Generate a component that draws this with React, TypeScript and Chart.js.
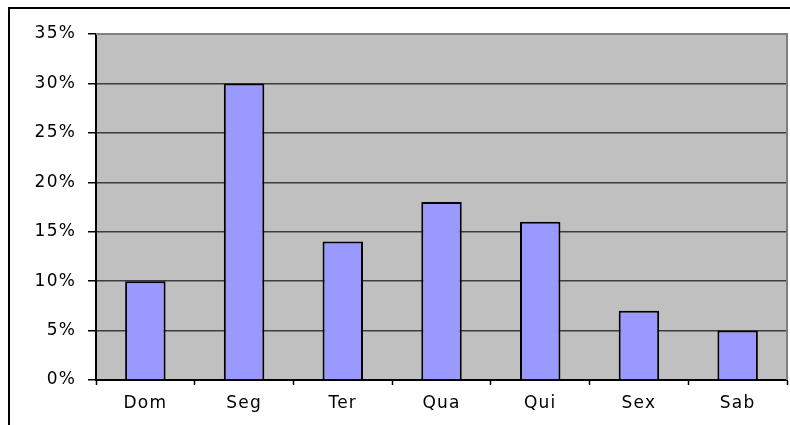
import React, { useEffect, useRef } from "react";
import { Chart, registerables } from "chart.js";

Chart.register(...registerables);

const categories = ["Dom", "Seg", "Ter", "Qua", "Qui", "Sex", "Sab"];
const values = [10, 30, 14, 18, 16, 7, 5];
const yTicks = [0, 5, 10, 15, 20, 25, 30, 35];

const framePlugin = {
  id: "frame",
  beforeDraw(chart: any) {
    const ctx = chart.ctx;
    const a = chart.chartArea;
    (ctx as any).letterSpacing = "1.2px";
    ctx.save();
    ctx.fillStyle = "#C0C0C0";
    ctx.fillRect(a.left, a.top, a.right - a.left, a.bottom - a.top);
    ctx.strokeStyle = "#000";
    ctx.lineWidth = 2;
    ctx.beginPath();
    ctx.moveTo(9, 425);
    ctx.lineTo(9, 8);
    ctx.lineTo(790, 8);
    ctx.stroke();
    ctx.restore();
  },
  afterDraw(chart: any) {
    const ctx = chart.ctx;
    const a = chart.chartArea;
    ctx.save();
    ctx.strokeStyle = "#808080";
    ctx.lineWidth = 2;
    ctx.beginPath();
    ctx.moveTo(a.left, a.top);
    ctx.lineTo(a.right, a.top);
    ctx.lineTo(a.right, a.bottom);
    ctx.stroke();
    ctx.restore();
  },
};

export default function App() {
  const ref = useRef<HTMLCanvasElement>(null);
  useEffect(() => {
    const chart = new Chart(ref.current!, {
      type: "bar",
      data: {
        labels: categories,
        datasets: [
          {
            data: values,
            backgroundColor: "#9999FF",
            borderColor: "#000",
            borderWidth: 2,
            barPercentage: 0.41,
            categoryPercentage: 1,
          },
        ],
      },
      plugins: [framePlugin],
      options: {
        animation: false,
        responsive: true,
        maintainAspectRatio: false,
        layout: { padding: { top: 34, right: 3, left: 0, bottom: 0 } },
        plugins: { legend: { display: false }, tooltip: { enabled: false } },
        scales: {
          x: {
            offset: true,
            afterFit: (s: any) => {
              s.height = 45;
            },
            grid: {
              offset: true,
              drawOnChartArea: false,
              drawTicks: true,
              tickLength: 5,
              tickColor: "#000",
              tickWidth: 1.5,
            },
            border: { display: true, color: "#000", width: 2 },
            ticks: {
              color: "#000",
              padding: 8,
              font: { family: "DejaVu Sans", size: 17 },
              maxRotation: 0,
            },
          },
          y: {
            min: 0,
            max: 35,
            afterFit: (s: any) => {
              s.width = 96;
            },
            afterBuildTicks: (s: any) => {
              s.ticks = yTicks.map((v) => ({ value: v }));
            },
            grid: {
              color: (c: any) => (c.tick && c.tick.value === 35 ? "#808080" : "#3c3c3c"),
              lineWidth: 1.5,
              tickLength: 8,
              tickColor: "#000",
              tickWidth: 1.5,
            },
            border: { display: true, color: "#000", width: 2 },
            ticks: {
              color: "#000",
              padding: 12,
              font: { family: "DejaVu Sans", size: 17 },
              callback: (v: any) => v + "%",
            },
          },
        },
      },
    });
    return () => chart.destroy();
  }, []);
  return (
    <div style={{ position: "fixed", left: 0, top: 0, width: 790, height: 425, background: "#fff" }}>
      <canvas ref={ref} />
    </div>
  );
}
